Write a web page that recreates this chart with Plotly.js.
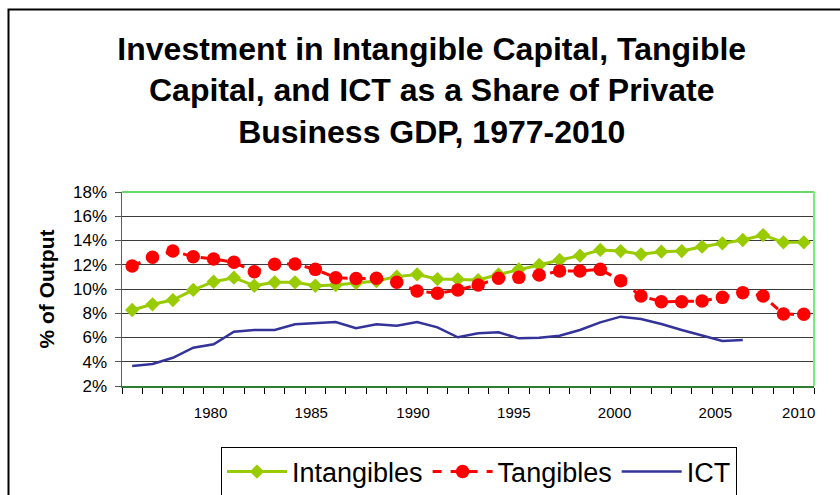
<!DOCTYPE html>
<html>
<head>
<meta charset="utf-8">
<script src="https://cdn.plot.ly/plotly-3.0.1.min.js"></script>
<style>html,body{margin:0;padding:0;background:#fff;}#chart{width:840px;height:495px;}</style>
</head>
<body>
<div id="chart"></div>
<script>
var years = [1977,1978,1979,1980,1981,1982,1983,1984,1985,1986,1987,1988,1989,1990,1991,1992,1993,1994,1995,1996,1997,1998,1999,2000,2001,2002,2003,2004,2005,2006,2007,2008,2009,2010];
var intangibles = [8.27,8.74,9.09,9.92,10.6,10.93,10.27,10.55,10.55,10.27,10.33,10.5,10.66,11.02,11.2,10.82,10.8,10.74,11.2,11.62,11.98,12.39,12.75,13.22,13.13,12.86,13.08,13.13,13.49,13.77,14.04,14.45,13.85,13.85];
var tangibles = [11.9,12.61,13.13,12.66,12.47,12.2,11.43,12.04,12.06,11.62,10.93,10.87,10.88,10.55,9.84,9.65,9.92,10.33,10.88,10.96,11.15,11.48,11.48,11.62,10.69,9.42,8.95,8.95,9.01,9.31,9.7,9.42,7.94,7.91];
var ict = [3.65,3.81,4.33,5.16,5.44,6.48,6.62,6.62,7.09,7.17,7.28,6.76,7.09,6.97,7.28,6.84,6.02,6.35,6.43,5.93,5.98,6.15,6.62,7.25,7.72,7.53,7.11,6.62,6.15,5.71,5.79,null,null,null];
var xTickLabels = ["1980","1985","1990","1995","2000","2005","2010"];
var yTickVals = [2,4,6,8,10,12,14,16,18];
var yTickLabels = ["2%","4%","6%","8%","10%","12%","14%","16%","18%"];

var FONT = '"Liberation Sans", Arial, sans-serif';

// where the reference prints its year labels along the axis
var labelPos = [1980.85,1985.8,1990.8,1995.75,2000.7,2005.65,2009.75];
var boundaries = years.map(function(y){return y-0.5;}).concat([years[years.length-1]+0.5]);

var traces = [
  {x: years, y: intangibles, name: 'Intangibles', type: 'scatter', mode: 'lines+markers',
   line: {color: '#99cc00', width: 3}, marker: {symbol: 'diamond', size: 11, color: '#99cc00'}},
  {x: years, y: tangibles, name: 'Tangibles', type: 'scatter', mode: 'lines+markers',
   line: {color: '#ff0000', width: 3, dash: 'dash'}, marker: {symbol: 'circle', size: 13.5, color: '#ff0000'}},
  {x: years, y: ict, name: 'ICT', type: 'scatter', mode: 'lines',
   line: {color: '#333399', width: 2.5}, connectgaps: false}
];

var L = 122, R = 26, T = 192, B = 109;
var pw = 840 - L - R, ph = 495 - T - B;
function px(v){return (v - L)/pw;}
function py(v){return (495 - B - v)/ph;}

var layout = {
  width: 840, height: 495,
  margin: {l: L, r: R, t: T, b: B, pad: 0, autoexpand: false},
  paper_bgcolor: '#ffffff', plot_bgcolor: '#ffffff',
  font: {family: FONT, color: '#000'},
  title: {text: 'Investment in Intangible Capital, Tangible<br>Capital, and ICT as a Share of Private<br>Business GDP, 1977-2010',
          font: {family: FONT, size: 32, color: '#000', weight: 'bold'},
          x: 0.514, xref: 'container', xanchor: 'center', y: 0.879, yref: 'container', yanchor: 'middle'},
  showlegend: true,
  legend: {orientation: 'h', x: px(479), xanchor: 'center', y: py(472), yanchor: 'middle',
           bordercolor: '#000', borderwidth: 1, bgcolor: '#fff',
           font: {family: FONT, size: 27, color: '#000'}, itemwidth: 60},
  xaxis: {range: [1976.5, 2010.5], type: 'linear', showgrid: false, zeroline: false,
          showline: true, linecolor: '#2e7d32', linewidth: 1.5,
          tickmode: 'array', tickvals: labelPos, ticktext: xTickLabels, ticks: '',
          ticklabelstandoff: 12,
          tickfont: {family: FONT, size: 15, color: '#000'},
          minor: {tickmode: 'array', tickvals: boundaries, ticks: 'outside', ticklen: 6, tickwidth: 1, tickcolor: '#000', showgrid: false}},
  yaxis: {range: [2, 18], tickmode: 'array', tickvals: yTickVals, ticktext: yTickLabels,
          showgrid: true, gridcolor: '#3a3a3a', gridwidth: 1, zeroline: false,
          showline: true, linecolor: '#2e7d32', linewidth: 1.5,
          ticks: 'outside', ticklen: 6, tickcolor: '#555', tickwidth: 1,
          ticklabelstandoff: 4,
          tickfont: {family: FONT, size: 17, color: '#000'},
          title: {text: '% of Output', font: {family: FONT, size: 21, color: '#000', weight: 'bold'}, standoff: 12}},
  shapes: [
    {type: 'line', xref: 'paper', yref: 'paper', x0: 0, x1: 1, y0: 1, y1: 1, line: {color: '#33cc33', width: 1.5}},
    {type: 'line', xref: 'paper', yref: 'paper', x0: 1, x1: 1, y0: 0, y1: 1, line: {color: '#77ee77', width: 2}},
    {type: 'rect', xref: 'paper', yref: 'paper', x0: px(8.5), x1: px(860), y0: py(520), y1: py(9.5), line: {color: '#000', width: 2}, fillcolor: 'rgba(0,0,0,0)', layer: 'below'}
  ]
};

Plotly.newPlot('chart', traces, layout, {displayModeBar: false, staticPlot: true});
</script>
</body>
</html>
